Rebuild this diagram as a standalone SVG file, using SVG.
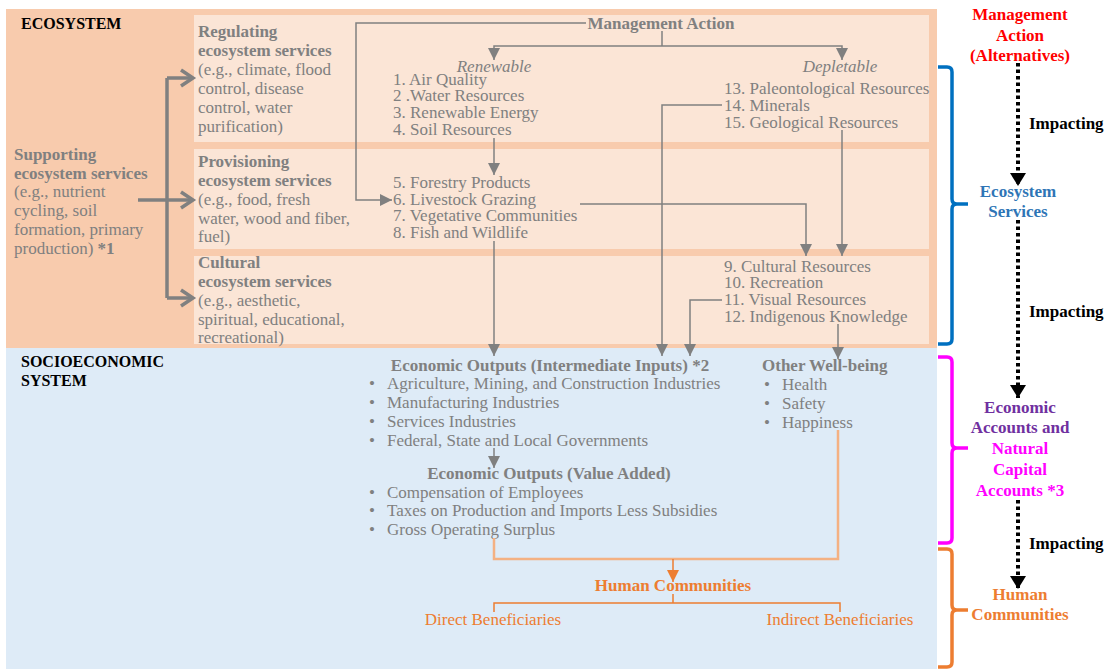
<svg xmlns="http://www.w3.org/2000/svg" width="1109" height="669" viewBox="0 0 1109 669" font-family="'Liberation Serif', 'Times New Roman', serif">
<style>
  text { font-family: "Liberation Serif", "Times New Roman", serif; }
  .g { fill: #808080; font-size: 17px; }
  .gb { fill: #808080; font-size: 17px; font-weight: bold; }
  .gi { fill: #808080; font-size: 17px; font-style: italic; }
  .hd { fill: #000; font-size: 16px; font-weight: bold; }
  .rt { font-size: 17px; font-weight: bold; text-anchor: middle; }
  .imp { fill: #000; font-size: 17px; font-weight: bold; }
  .ob { fill: #ED7D31; font-size: 17px; font-weight: bold; }
  .or { fill: #ED7D31; font-size: 17px; }
  .ln { fill: none; stroke: #808080; stroke-width: 1.5; }
  .chev { fill: none; stroke: #808080; stroke-width: 3.5; stroke-linejoin: miter; }
  .dot { fill: none; stroke: #000; stroke-width: 4; stroke-dasharray: 3.5 3; }
  .lor { fill: none; stroke: #F4B183; stroke-width: 2.5; }
  .dor { fill: none; stroke: #ED7D31; stroke-width: 1.5; }
  .brace { fill: none; stroke-width: 3.5; stroke-linejoin: round; }
  .panel { fill: #FBE5D6; }
</style>
<defs>
  <marker id="ag" markerUnits="userSpaceOnUse" markerWidth="12" markerHeight="12" refX="12" refY="6" orient="auto">
    <path d="M0,0 L12,6 L0,12 Z" fill="#808080"/>
  </marker>
  <marker id="ao" markerUnits="userSpaceOnUse" markerWidth="12" markerHeight="12" refX="12" refY="6" orient="auto">
    <path d="M0,0 L12,6 L0,12 Z" fill="#ED7D31"/>
  </marker>
  <marker id="ak" markerUnits="userSpaceOnUse" markerWidth="14" markerHeight="16" refX="13" refY="8" orient="auto">
    <path d="M0,0 L13,8 L0,16 Z" fill="#000"/>
  </marker>
</defs>

<rect x="0" y="0" width="1109" height="669" fill="#fff"/>

<!-- system backgrounds -->
<g id="ecosystem">
  <rect x="6" y="9" width="931" height="339" fill="#F8CBAD"/>
  <text class="hd" x="21" y="29">ECOSYSTEM</text>
</g>
<g id="socioeconomic-system">
  <rect x="6" y="348" width="931" height="321" fill="#DEEBF7"/>
  <text class="hd" x="21" y="367">SOCIOECONOMIC</text>
  <text class="hd" x="21" y="386">SYSTEM</text>
</g>

<!-- service panels -->
<g id="regulating">
  <rect class="panel" x="194" y="15" width="735" height="127"/>
  <text class="gb" x="198" y="37">Regulating</text>
  <text class="gb" x="198" y="56">ecosystem services</text>
  <text class="g" x="198" y="75">(e.g., climate, flood</text>
  <text class="g" x="198" y="94">control, disease</text>
  <text class="g" x="198" y="113">control, water</text>
  <text class="g" x="198" y="132">purification)</text>
</g>
<g id="provisioning">
  <rect class="panel" x="194" y="149" width="735" height="100"/>
  <text class="gb" x="198" y="167">Provisioning</text>
  <text class="gb" x="198" y="186">ecosystem services</text>
  <text class="g" x="198" y="205">(e.g., food, fresh</text>
  <text class="g" x="198" y="224">water, wood and fiber,</text>
  <text class="g" x="198" y="242">fuel)</text>
</g>
<g id="cultural">
  <rect class="panel" x="194" y="256" width="735" height="88"/>
  <text class="gb" x="198" y="268">Cultural</text>
  <text class="gb" x="198" y="287">ecosystem services</text>
  <text class="g" x="198" y="306">(e.g., aesthetic,</text>
  <text class="g" x="198" y="325">spiritual, educational,</text>
  <text class="g" x="198" y="343">recreational)</text>
</g>
<g id="supporting">
  <text class="gb" x="14" y="160">Supporting</text>
  <text class="gb" x="14" y="179">ecosystem services</text>
  <text class="g" x="14" y="197">(e.g., nutrient</text>
  <text class="g" x="14" y="216">cycling, soil</text>
  <text class="g" x="14" y="235">formation, primary</text>
  <text class="g" x="14" y="254">production) <tspan font-weight="bold">*1</tspan></text>
</g>

<!-- resource lists -->
<g id="management-action">
  <text class="gb" x="661" y="29" text-anchor="middle">Management Action</text>
</g>
<g id="renewable">
  <text class="gi" x="494" y="72" text-anchor="middle">Renewable</text>
  <text class="g" x="393" y="85">1. Air Quality</text>
  <text class="g" x="393" y="101">2 .Water Resources</text>
  <text class="g" x="393" y="118">3. Renewable Energy</text>
  <text class="g" x="393" y="135">4. Soil Resources</text>
</g>
<g id="depletable">
  <text class="gi" x="840" y="72" text-anchor="middle">Depletable</text>
  <text class="g" x="724" y="94">13. Paleontological Resources</text>
  <text class="g" x="724" y="111">14. Minerals</text>
  <text class="g" x="724" y="128">15. Geological Resources</text>
</g>
<g id="provisioning-resources">
  <text class="g" x="393" y="188">5. Forestry Products</text>
  <text class="g" x="393" y="205">6. Livestock Grazing</text>
  <text class="g" x="393" y="221">7. Vegetative Communities</text>
  <text class="g" x="393" y="238">8. Fish and Wildlife</text>
</g>
<g id="cultural-resources">
  <text class="g" x="724" y="272">9. Cultural Resources</text>
  <text class="g" x="724" y="288">10. Recreation</text>
  <text class="g" x="724" y="305">11. Visual Resources</text>
  <text class="g" x="724" y="322">12. Indigenous Knowledge</text>
</g>

<!-- socioeconomic nodes -->
<g id="economic-intermediate">
  <text class="gb" x="550" y="371" text-anchor="middle">Economic Outputs (Intermediate Inputs) *2</text>
  <g class="g">
    <text x="369" y="389">•</text><text x="387" y="389">Agriculture, Mining, and  Construction Industries</text>
    <text x="369" y="408">•</text><text x="387" y="408">Manufacturing Industries</text>
    <text x="369" y="427">•</text><text x="387" y="427">Services Industries</text>
    <text x="369" y="446">•</text><text x="387" y="446">Federal, State and Local Governments</text>
  </g>
</g>
<g id="economic-value-added">
  <text class="gb" x="549" y="479" text-anchor="middle">Economic Outputs (Value Added)</text>
  <g class="g">
    <text x="369" y="498">•</text><text x="387" y="498">Compensation of Employees</text>
    <text x="369" y="516">•</text><text x="387" y="516">Taxes  on Production and Imports Less Subsidies</text>
    <text x="369" y="535">•</text><text x="387" y="535">Gross Operating Surplus</text>
  </g>
</g>
<g id="other-well-being">
  <text class="gb" x="762" y="371">Other Well-being</text>
  <g class="g">
    <text x="764" y="390">•</text><text x="782" y="390">Health</text>
    <text x="764" y="409">•</text><text x="782" y="409">Safety</text>
    <text x="764" y="428">•</text><text x="782" y="428">Happiness</text>
  </g>
</g>
<g id="human-communities">
  <text class="ob" x="673" y="591" text-anchor="middle">Human Communities</text>
  <text class="or" x="493" y="625" text-anchor="middle">Direct Beneficiaries</text>
  <text class="or" x="840" y="625" text-anchor="middle">Indirect Beneficiaries</text>
</g>

<!-- connectors -->
<g id="connectors">
  <!-- supporting services feed the three service types -->
  <path class="chev" d="M138,200 H192"/>
  <path class="chev" d="M167,78 V298"/>
  <path class="chev" d="M167,78 H192 M167,298 H192"/>
  <path class="chev" d="M181,70 L193,78 L181,86"/>
  <path class="chev" d="M181,192 L193,200 L181,208"/>
  <path class="chev" d="M181,290 L193,298 L181,306"/>

  <!-- management action branches -->
  <path class="ln" d="M586,23 H356 V200 H392" marker-end="url(#ag)"/>
  <path class="ln" d="M662,31 V46"/>
  <path class="ln" d="M662,46 H494 V60" marker-end="url(#ag)"/>
  <path class="ln" d="M662,46 H842 V60" marker-end="url(#ag)"/>

  <path class="ln" d="M494,138 V175" marker-end="url(#ag)"/>
  <path class="ln" d="M722,105 H662 V356" marker-end="url(#ag)"/>
  <path class="ln" d="M842,130 V256" marker-end="url(#ag)"/>
  <path class="ln" d="M580,204 H806 V256" marker-end="url(#ag)"/>
  <path class="ln" d="M722,300 H690 V356" marker-end="url(#ag)"/>
  <path class="ln" d="M838,324 V359" marker-end="url(#ag)"/>
  <path class="ln" d="M494,241 V356" marker-end="url(#ag)"/>
  <path class="ln" d="M494,448 V468" marker-end="url(#ag)"/>

  <!-- outputs to human communities -->
  <path class="lor" d="M494,538 V559 H838 V430"/>
  <path class="dor" d="M673,559 V582" marker-end="url(#ao)"/>
  <path class="dor" d="M673,594 V603 M494,612 V603 H840 V612"/>

  <!-- impact chain -->
  <path class="dot" d="M1018,63 V186" marker-end="url(#ak)"/>
  <path class="dot" d="M1018,220 V398" marker-end="url(#ak)"/>
  <path class="dot" d="M1018,500 V589" marker-end="url(#ak)"/>
</g>

<!-- impact chain legend -->
<g id="legend-management">
  <text class="rt" x="1020" y="20" fill="#FF0000">Management</text>
  <text class="rt" x="1020" y="41" fill="#FF0000">Action</text>
  <text class="rt" x="1020" y="61" fill="#FF0000">(Alternatives)</text>
</g>
<g id="legend-ecosystem-services">
  <path class="brace" stroke="#0070C0" d="M938,67 H947 Q952,67 952,72 V199 Q952,204 957,204 H968 M957,204 Q952,204 952,209 V339 Q952,344 947,344 H938"/>
  <text class="rt" x="1018" y="197" fill="#2E75B6">Ecosystem</text>
  <text class="rt" x="1018" y="217" fill="#2E75B6">Services</text>
</g>
<g id="legend-accounts">
  <path class="brace" stroke="#FF00FF" d="M938,357 H947 Q952,357 952,362 V443 Q952,448 957,448 H968 M957,448 Q952,448 952,453 V538 Q952,543 947,543 H938"/>
  <text class="rt" x="1020" y="413" fill="#7030A0">Economic</text>
  <text class="rt" x="1020" y="433" fill="#7030A0">Accounts and</text>
  <text class="rt" x="1020" y="454" fill="#FF00FF">Natural</text>
  <text class="rt" x="1020" y="475" fill="#FF00FF">Capital</text>
  <text class="rt" x="1020" y="496" fill="#FF00FF">Accounts *3</text>
</g>
<g id="legend-human-communities">
  <path class="brace" stroke="#ED7D31" d="M938,549 H947 Q952,549 952,554 V605 Q952,610 957,610 H968 M957,610 Q952,610 952,615 V662 Q952,667 947,667 H938"/>
  <text class="rt" x="1020" y="600" fill="#ED7D31">Human</text>
  <text class="rt" x="1020" y="620" fill="#ED7D31">Communities</text>
</g>
<g id="impacting-labels">
  <text class="imp" x="1029" y="129">Impacting</text>
  <text class="imp" x="1029" y="317">Impacting</text>
  <text class="imp" x="1029" y="549">Impacting</text>
</g>
</svg>
